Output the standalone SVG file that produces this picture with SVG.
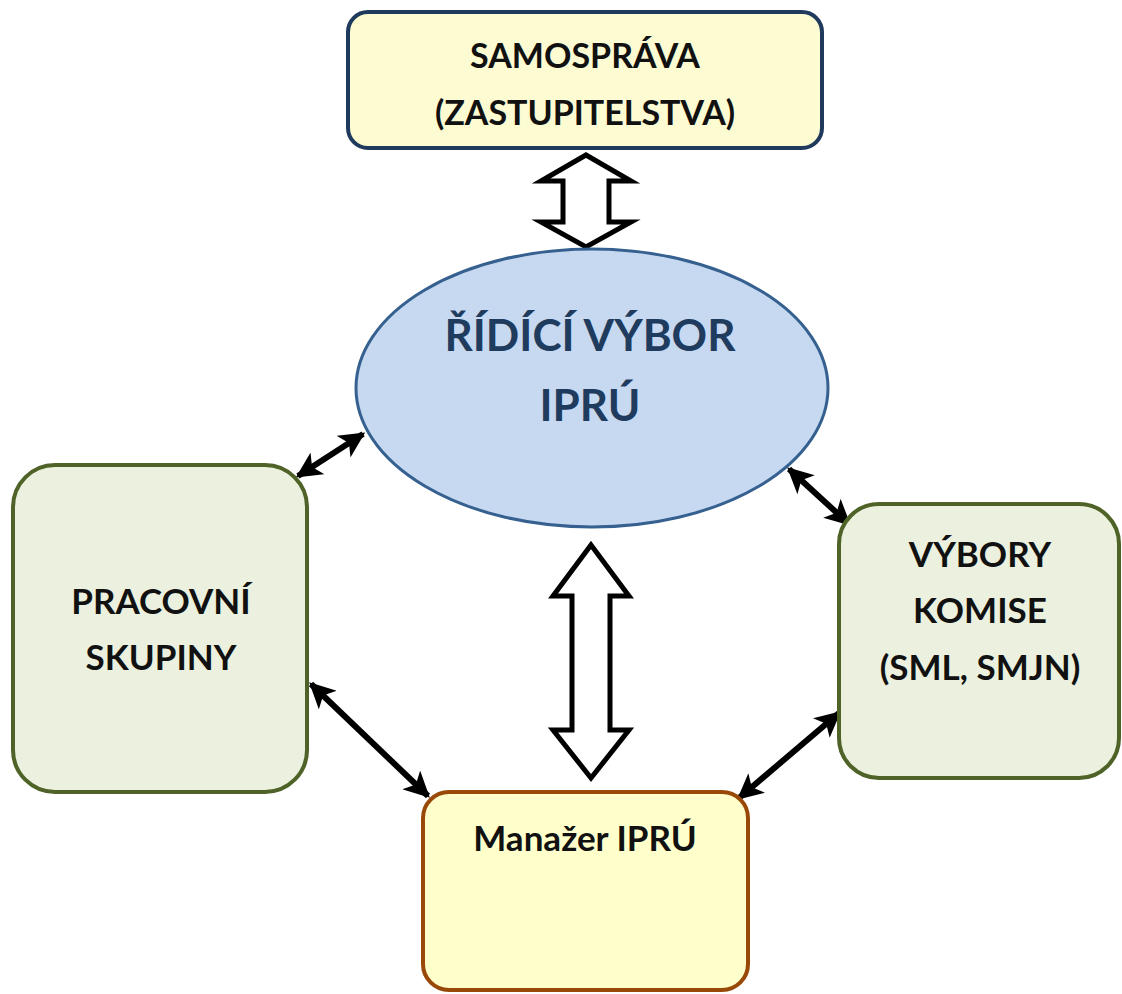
<svg xmlns="http://www.w3.org/2000/svg" width="1122" height="994" viewBox="0 0 1122 994">
<defs>
<marker id="ah" viewBox="0 0 10 10" refX="9" refY="5" markerWidth="4.3" markerHeight="4.3" orient="auto-start-reverse" markerUnits="strokeWidth">
<path d="M0,0 L10,5 L0,10 L2.5,5 Z" fill="#000"/>
</marker>
</defs>
<style>
text{font-family:Lato,"Open Sans","Liberation Sans",sans-serif;font-weight:bold;text-anchor:middle;fill:#111}
.conn{stroke:#000;stroke-width:6;fill:none;marker-start:url(#ah);marker-end:url(#ah)}
.hollow{fill:#fff;stroke:#000;stroke-width:5;stroke-linejoin:miter}
.green{fill:#EBF1DE;stroke:#4F6228;stroke-width:4}
</style>
<rect width="1122" height="994" fill="#fff"/>
<g id="connectors">
<path class="hollow" d="M586,155 L631,181 L609,181 L609,222 L631,222 L586,247 L541,222 L563,222 L563,181 L541,181 Z"/>
<path class="hollow" d="M591,545 L629,596 L610,596 L610,730 L629,730 L591,778 L553,730 L572,730 L572,596 L553,596 Z"/>
<line class="conn" x1="298" y1="476" x2="363" y2="434"/>
<line class="conn" x1="311" y1="684" x2="428" y2="796"/>
<line class="conn" x1="789" y1="469" x2="849" y2="524"/>
<line class="conn" x1="839" y1="713" x2="739" y2="798"/>
</g>
<g id="samosprava">
<rect x="348" y="12" width="474" height="136" rx="20" fill="#FCFBD2" stroke="#1F3A5C" stroke-width="4"/>
<text x="585" y="68" font-size="34">SAMOSPRÁVA</text>
<text x="585" y="125" font-size="34">(ZASTUPITELSTVA)</text>
</g>
<g id="ridici-vybor">
<ellipse cx="592" cy="388" rx="236" ry="139" fill="#C6D9F1" stroke="#35608F" stroke-width="3"/>
<text x="590" y="351" font-size="44" style="fill:#1F3B5E">ŘÍDÍCÍ VÝBOR</text>
<text x="590" y="421" font-size="44" style="fill:#1F3B5E">IPRÚ</text>
</g>
<g id="pracovni-skupiny">
<rect class="green" x="13" y="465" width="294" height="327" rx="42"/>
<text x="161" y="614" font-size="35">PRACOVNÍ</text>
<text x="161" y="670" font-size="35">SKUPINY</text>
</g>
<g id="vybory-komise">
<rect class="green" x="839" y="504" width="280" height="274" rx="40"/>
<text x="980" y="567" font-size="35">VÝBORY</text>
<text x="980" y="623" font-size="35">KOMISE</text>
<text x="980" y="680" font-size="35">(SML, SMJN)</text>
</g>
<g id="manazer">
<rect x="423" y="792" width="325" height="198" rx="26" fill="#FFFFCC" stroke="#984807" stroke-width="4"/>
<text x="585" y="851" font-size="35">Manažer IPRÚ</text>
</g>
</svg>
